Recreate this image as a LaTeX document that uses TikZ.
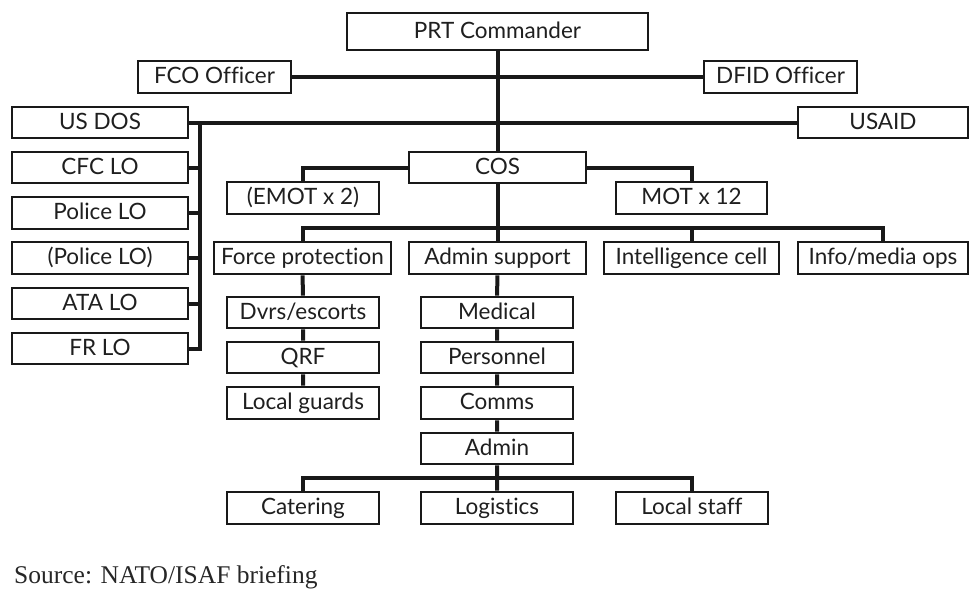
\documentclass[tikz,border=0pt]{standalone}
\usepackage{fontspec}
\setmainfont{Lato}[Ligatures=NoCommon]
\newfontfamily\srcfont{Liberation Serif}
\usetikzlibrary{backgrounds}

% \obox{name}{x1}{y1}{x2}{y2}{text}: a box given by its corners
\newcommand\obox[6]{%
  \node[orgbox, minimum width={(#4-#2)*1pt}, minimum height={(#5-#3)*1pt}]
    (#1) at ({(#2+#4)/2},{(#3+#5)/2}) {#6};}

\begin{document}
\begin{tikzpicture}[x=1pt, y=-1pt,
  orgbox/.style={draw=black!90, line width=2.6pt, fill=white, inner sep=0pt,
    text height=17pt, text depth=4pt,
    font=\fontsize{22.5}{26}\selectfont, text=black!88},
  link/.style={draw=black!90, line width=4pt}]
  \useasboundingbox (0,0) rectangle (971,594);

  % top of the chart
  \obox{prt}{347}{13}{648}{50}{PRT Commander}
  \obox{fco}{138}{61}{291}{93}{FCO Officer}
  \obox{dfid}{704}{61}{857}{93}{DFID Officer}
  \obox{usdos}{12}{107}{188}{138}{US DOS}
  \obox{usaid}{798}{107}{968}{138}{USAID}

  % liaison officers
  \obox{cfc}{12}{152}{188}{183}{CFC LO}
  \obox{pol}{12}{197}{188}{229}{Police LO}
  \obox{polb}{12}{242}{188}{274}{(Police LO)}
  \obox{ata}{12}{288}{188}{319}{ATA LO}
  \obox{fr}{12}{333}{188}{364}{FR LO}

  % chief of staff and teams
  \obox{cos}{409}{152}{586}{183}{COS}
  \obox{emot}{227}{182}{379}{214}{(EMOT x 2)}
  \obox{mot}{616}{182}{767}{214}{MOT x 12}

  % branches
  \obox{fp}{214}{242}{391}{274}{Force protection}
  \obox{as}{409}{242}{586}{274}{Admin support}
  \obox{intel}{604}{242}{779}{274}{Intelligence cell}
  \obox{info}{798}{242}{968}{274}{Info/media ops}

  % force protection sections
  \obox{dvrs}{227}{297}{379}{328}{Dvrs/escorts}
  \obox{qrf}{227}{342}{379}{373}{QRF}
  \obox{guards}{227}{387}{379}{419}{Local guards}

  % admin sections
  \obox{med}{421}{297}{573}{328}{Medical}
  \obox{pers}{421}{342}{573}{373}{Personnel}
  \obox{comms}{421}{387}{573}{419}{Comms}
  \obox{admin}{421}{433}{573}{464}{Admin}

  \obox{cat}{227}{492}{379}{524}{Catering}
  \obox{log}{421}{492}{573}{524}{Logistics}
  \obox{staff}{616}{492}{768}{524}{Local staff}

  \node[anchor=base west, inner sep=0pt, font=\srcfont\fontsize{25.5}{28}\selectfont, text=black!85]
    (src) at (14,583) {Source: NATO/ISAF briefing};

  \coordinate (lbus) at (200,122.5);
  \coordinate (lbusend) at (200,350.5);
  \coordinate (bus1) at (497.5,228);
  \coordinate (bus2) at (497,478);

  \begin{scope}[on background layer]
    \draw[link] (prt) -- (cos);
    \draw[link] (fco) -- (dfid);
    \draw[link] (usdos) -- (usaid);
    \draw[link] (lbus) -- (lbusend);
    \foreach \n in {cfc,pol,polb,ata,fr}
      \draw[link] (\n.east) -- (\n.east -| lbus);
    \draw[link] (cos.west) -| (emot.north);
    \draw[link] (cos.east) -| (mot.north);
    \draw[link] (cos) -- (as);
    \draw[link] (fp.north) |- (bus1) -| (info.north);
    \draw[link] (intel.north) -- (intel.north |- bus1);
    \draw[link] (fp) -- (dvrs) -- (qrf) -- (guards);
    \draw[link] (as) -- (med) -- (pers) -- (comms) -- (admin) -- (log);
    \draw[link] (cat.north) |- (bus2) -| (staff.north);
  \end{scope}
\end{tikzpicture}
\end{document}
